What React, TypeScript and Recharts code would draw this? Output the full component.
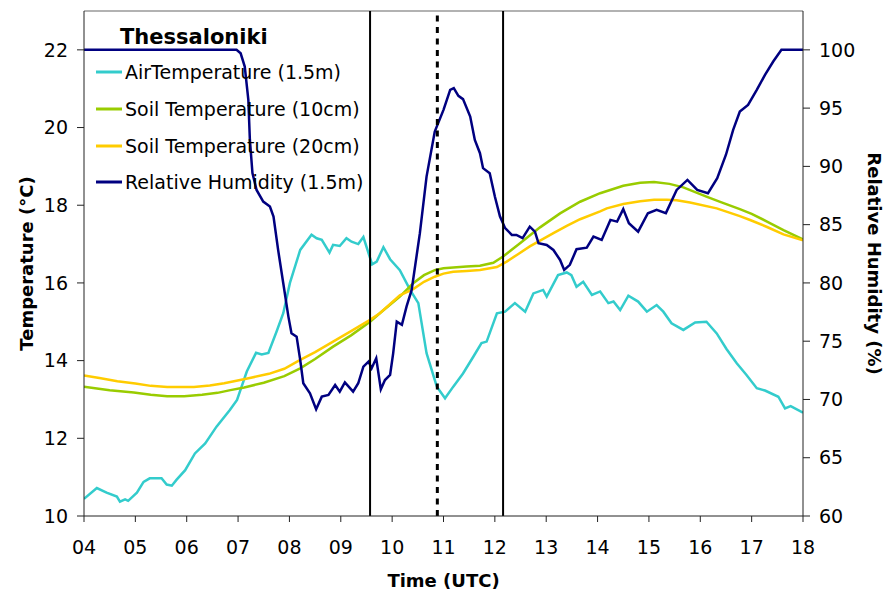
import React from 'react';
import { ComposedChart, Line, XAxis, YAxis, ReferenceLine, Legend, Label } from 'recharts';

const hourTicks = [4, 5, 6, 7, 8, 9, 10, 11, 12, 13, 14, 15, 16, 17, 18];
const tempTicks = [10, 12, 14, 16, 18, 20, 22];
const rhTicks = [60, 65, 70, 75, 80, 85, 90, 95, 100];

// [hour (UTC, decimal), value]
const airTemp: [number, number][] = [
  [4.0, 10.44], [4.25, 10.72], [4.44, 10.6], [4.64, 10.5], [4.7, 10.37], [4.8, 10.43], [4.86, 10.39],
  [5.03, 10.6], [5.16, 10.88], [5.28, 10.97], [5.51, 10.97], [5.61, 10.81], [5.71, 10.78], [5.8, 10.93],
  [5.97, 11.18], [6.16, 11.61], [6.36, 11.87], [6.58, 12.3], [6.84, 12.73], [6.98, 12.99], [7.17, 13.72],
  [7.35, 14.2], [7.46, 14.16], [7.59, 14.2], [7.75, 14.75], [7.88, 15.22], [8.01, 16.0], [8.21, 16.85],
  [8.43, 17.24], [8.53, 17.15], [8.63, 17.11], [8.78, 16.78], [8.85, 16.98], [8.98, 16.95], [9.11, 17.15],
  [9.21, 17.06], [9.34, 17.0], [9.44, 17.18], [9.61, 16.48], [9.7, 16.55], [9.83, 16.92], [9.96, 16.61],
  [10.15, 16.33], [10.35, 15.82], [10.51, 15.48], [10.67, 14.19], [10.87, 13.33], [11.03, 13.03],
  [11.19, 13.33], [11.38, 13.67], [11.58, 14.1], [11.74, 14.45], [11.84, 14.49], [12.04, 15.22],
  [12.2, 15.26], [12.39, 15.48], [12.59, 15.26], [12.75, 15.73], [12.94, 15.82], [13.01, 15.65],
  [13.23, 16.2], [13.4, 16.27], [13.49, 16.2], [13.59, 15.9], [13.72, 16.03], [13.89, 15.69],
  [14.05, 15.78], [14.21, 15.48], [14.31, 15.52], [14.44, 15.3], [14.6, 15.67], [14.79, 15.52],
  [14.96, 15.26], [15.15, 15.43], [15.28, 15.26], [15.44, 14.96], [15.67, 14.79], [15.9, 14.98],
  [16.12, 15.0], [16.32, 14.7], [16.51, 14.3], [16.71, 13.93], [16.9, 13.63], [17.1, 13.29],
  [17.26, 13.23], [17.52, 13.07], [17.65, 12.77], [17.76, 12.83], [18.0, 12.66],
];

const soil10: [number, number][] = [
  [4.0, 13.33], [4.5, 13.24], [4.97, 13.18], [5.3, 13.12], [5.62, 13.08], [5.95, 13.08], [6.3, 13.12],
  [6.6, 13.17], [6.85, 13.24], [7.12, 13.31], [7.5, 13.43], [7.9, 13.6], [8.21, 13.8], [8.5, 14.04],
  [8.85, 14.36], [9.2, 14.65], [9.57, 15.0], [9.76, 15.22], [10.15, 15.65], [10.41, 15.99], [10.62, 16.2],
  [10.83, 16.33], [11.0, 16.38], [11.19, 16.4], [11.45, 16.42], [11.71, 16.44], [11.97, 16.52],
  [12.16, 16.68], [12.49, 17.02], [12.88, 17.43], [13.27, 17.79], [13.66, 18.09], [14.05, 18.31],
  [14.5, 18.5], [14.83, 18.58], [15.1, 18.6], [15.4, 18.55], [15.67, 18.46], [16.12, 18.22],
  [16.4, 18.08], [16.77, 17.9], [17.0, 17.78], [17.3, 17.58], [17.62, 17.36], [18.0, 17.12],
];

const soil20: [number, number][] = [
  [4.0, 13.62], [4.3, 13.55], [4.65, 13.47], [5.0, 13.41], [5.3, 13.35], [5.62, 13.32], [6.14, 13.32],
  [6.45, 13.36], [6.73, 13.42], [7.04, 13.5], [7.25, 13.56], [7.6, 13.66], [7.9, 13.79], [8.21, 14.02],
  [8.5, 14.22], [8.85, 14.49], [9.2, 14.76], [9.57, 15.05], [9.76, 15.22], [10.15, 15.68], [10.41, 15.84],
  [10.62, 16.03], [10.83, 16.16], [11.0, 16.24], [11.19, 16.29], [11.45, 16.31], [11.71, 16.33],
  [12.04, 16.41], [12.23, 16.55], [12.45, 16.74], [12.68, 16.94], [12.88, 17.09], [13.14, 17.28],
  [13.4, 17.47], [13.66, 17.64], [14.05, 17.84], [14.18, 17.92], [14.5, 18.03], [14.83, 18.1],
  [15.1, 18.14], [15.35, 18.14], [15.54, 18.13], [15.8, 18.07], [16.32, 17.92], [16.77, 17.72],
  [16.97, 17.62], [17.3, 17.44], [17.62, 17.25], [18.0, 17.1],
];

const humidity: [number, number][] = [
  [4.0, 100], [4.5, 100], [5.0, 100], [5.5, 100], [6.0, 100], [6.5, 100], [6.97, 100], [7.05, 99.7],
  [7.13, 98.57], [7.2, 95.7], [7.23, 92.27], [7.28, 89.42], [7.36, 87.98], [7.49, 86.98], [7.62, 86.55],
  [7.69, 85.7], [7.78, 82.83], [7.88, 79.97], [7.98, 77.11], [8.04, 75.68], [8.14, 75.39], [8.21, 73.39],
  [8.27, 71.39], [8.4, 70.53], [8.52, 69.16], [8.63, 70.24], [8.76, 70.39], [8.89, 71.24], [8.98, 70.67],
  [9.08, 71.47], [9.24, 70.67], [9.34, 71.39], [9.44, 72.82], [9.54, 73.25], [9.6, 72.68], [9.69, 73.54],
  [9.78, 70.87], [9.86, 71.67], [9.96, 72.1], [10.02, 73.96], [10.09, 76.68], [10.19, 76.4],
  [10.28, 77.97], [10.38, 79.4], [10.54, 84.27], [10.67, 89.12], [10.83, 92.99], [11.0, 94.85],
  [11.13, 96.57], [11.2, 96.71], [11.29, 96.05], [11.38, 95.77], [11.52, 94.28], [11.61, 92.27],
  [11.71, 91.13], [11.77, 89.85], [11.9, 89.42], [12.0, 87.41], [12.1, 85.7], [12.2, 84.7], [12.33, 84.12],
  [12.42, 84.12], [12.54, 83.84], [12.68, 84.83], [12.78, 84.4], [12.85, 83.41], [13.01, 83.26],
  [13.14, 82.83], [13.27, 81.97], [13.35, 81.12], [13.46, 81.55], [13.59, 82.89], [13.79, 83.03],
  [13.92, 83.97], [14.08, 83.69], [14.25, 85.41], [14.38, 85.26], [14.5, 86.33], [14.61, 85.12],
  [14.79, 84.4], [14.98, 85.98], [15.15, 86.27], [15.33, 85.99], [15.54, 87.98], [15.75, 88.84],
  [15.94, 87.98], [16.15, 87.7], [16.33, 88.98], [16.5, 91.0], [16.64, 93.13], [16.77, 94.7],
  [16.93, 95.28], [17.1, 96.57], [17.26, 97.85], [17.42, 99.0], [17.58, 100], [18.0, 100],
];

// event times (decimal hours UTC)
const solidEvents = [9.57, 12.16];
const dottedEvents = [10.88];

const toRows = (arr: [number, number][]) => arr.map(([h, v]) => ({ h, v }));

const FONT = '"DejaVu Sans", "Liberation Sans", Arial, sans-serif';

const series = [
  { key: 'air', name: 'AirTemperature (1.5m)', color: '#33CCCC', data: airTemp, axis: 't' },
  { key: 's10', name: 'Soil Temperature (10cm)', color: '#99CC00', data: soil10, axis: 't' },
  { key: 's20', name: 'Soil Temperature (20cm)', color: '#FFCC00', data: soil20, axis: 't' },
  { key: 'rh', name: 'Relative Humidity (1.5m)', color: '#000080', data: humidity, axis: 'rh' },
];

const renderLegend = () => (
  <div style={{ fontFamily: FONT, color: '#000' }}>
    <div style={{ height: 34, lineHeight: '34px', fontWeight: 'bold', fontSize: 21, paddingLeft: 24 }}>
      Thessaloniki
    </div>
    {series.map((s) => (
      <div key={s.key} style={{ height: 36.7, display: 'flex', alignItems: 'center' }}>
        <svg width={26} height={4} style={{ display: 'block' }}>
          <line x1={0} y1={2} x2={26} y2={2} stroke={s.color} strokeWidth={3} />
        </svg>
        <span style={{ fontSize: 19, marginLeft: 3, whiteSpace: 'nowrap' }}>{s.name}</span>
      </div>
    ))}
  </div>
);

const axisStroke = '#222';
const tickStyle = { fontSize: 19, fill: '#000', fontFamily: FONT };
const titleStyle = { fontSize: 18, fontWeight: 'bold' as const, fill: '#000', fontFamily: FONT };

export default function App() {
  return (
    <div style={{ position: 'absolute', left: 0, top: 0, width: 885, height: 592, background: '#fff' }}>
      <ComposedChart width={885} height={592} margin={{ top: 11, right: 0, bottom: 0, left: 0 }}>
        <XAxis
          dataKey="h"
          type="number"
          domain={[4, 18]}
          ticks={hourTicks}
          allowDataOverflow
          tickFormatter={(v: number) => String(v).padStart(2, '0')}
          height={76}
          stroke={axisStroke}
          tickSize={6}
          tickMargin={19}
          tick={tickStyle}
          interval={0}
        >
          <Label
            content={(props: any) => {
              const vb = props.viewBox || { x: 84, y: 516, width: 719 };
              return (
                <text x={vb.x + vb.width / 2} y={vb.y + 64} textAnchor="middle" dominantBaseline="central" style={titleStyle}>
                  Time (UTC)
                </text>
              );
            }}
          />
        </XAxis>
        <YAxis
          yAxisId="t"
          orientation="left"
          type="number"
          domain={[10, 23]}
          ticks={tempTicks}
          allowDataOverflow
          width={84}
          stroke={axisStroke}
          tickSize={7}
          tickMargin={9}
          tick={tickStyle}
          interval={0}
        >
          <Label
            content={(props: any) => {
              const vb = props.viewBox || { x: 0, y: 11, width: 84, height: 505 };
              const cx = vb.x + 26;
              const cy = vb.y + vb.height / 2;
              return (
                <text x={cx} y={cy} transform={`rotate(-90 ${cx} ${cy})`} textAnchor="middle" dominantBaseline="central" style={titleStyle}>
                  Temperature (°C)
                </text>
              );
            }}
          />
        </YAxis>
        <YAxis
          yAxisId="rh"
          orientation="right"
          type="number"
          domain={[60, 60 + (40 * 13) / 12]}
          ticks={rhTicks}
          allowDataOverflow
          width={82}
          stroke={axisStroke}
          tickSize={7}
          tickMargin={9}
          tick={tickStyle}
          interval={0}
        >
          <Label
            content={(props: any) => {
              const vb = props.viewBox || { x: 803, y: 11, width: 82, height: 505 };
              const cx = vb.x + 71;
              const cy = vb.y + vb.height / 2;
              return (
                <text x={cx} y={cy} transform={`rotate(90 ${cx} ${cy})`} textAnchor="middle" dominantBaseline="central" style={titleStyle}>
                  Relative Humidity (%)
                </text>
              );
            }}
          />
        </YAxis>

        <ReferenceLine yAxisId="t" y={23} stroke="#999" strokeWidth={1.5} />

        {series.map((s) => (
          <Line
            key={s.key}
            data={toRows(s.data)}
            dataKey="v"
            name={s.name}
            yAxisId={s.axis}
            type="linear"
            stroke={s.color}
            strokeWidth={2.5}
            dot={false}
            activeDot={false}
            isAnimationActive={false}
          />
        ))}

        {solidEvents.map((x) => (
          <ReferenceLine key={`s${x}`} yAxisId="t" x={x} stroke="#000" strokeWidth={2} />
        ))}
        {dottedEvents.map((x) => (
          <ReferenceLine key={`d${x}`} yAxisId="t" x={x} stroke="#000" strokeWidth={3} strokeDasharray="6 5.5" />
        ))}

        <Legend
          layout="vertical"
          align="center"
          verticalAlign="middle"
          content={renderLegend}
          wrapperStyle={{ left: 96, top: 20, width: 320, height: 180 }}
        />
      </ComposedChart>
    </div>
  );
}
